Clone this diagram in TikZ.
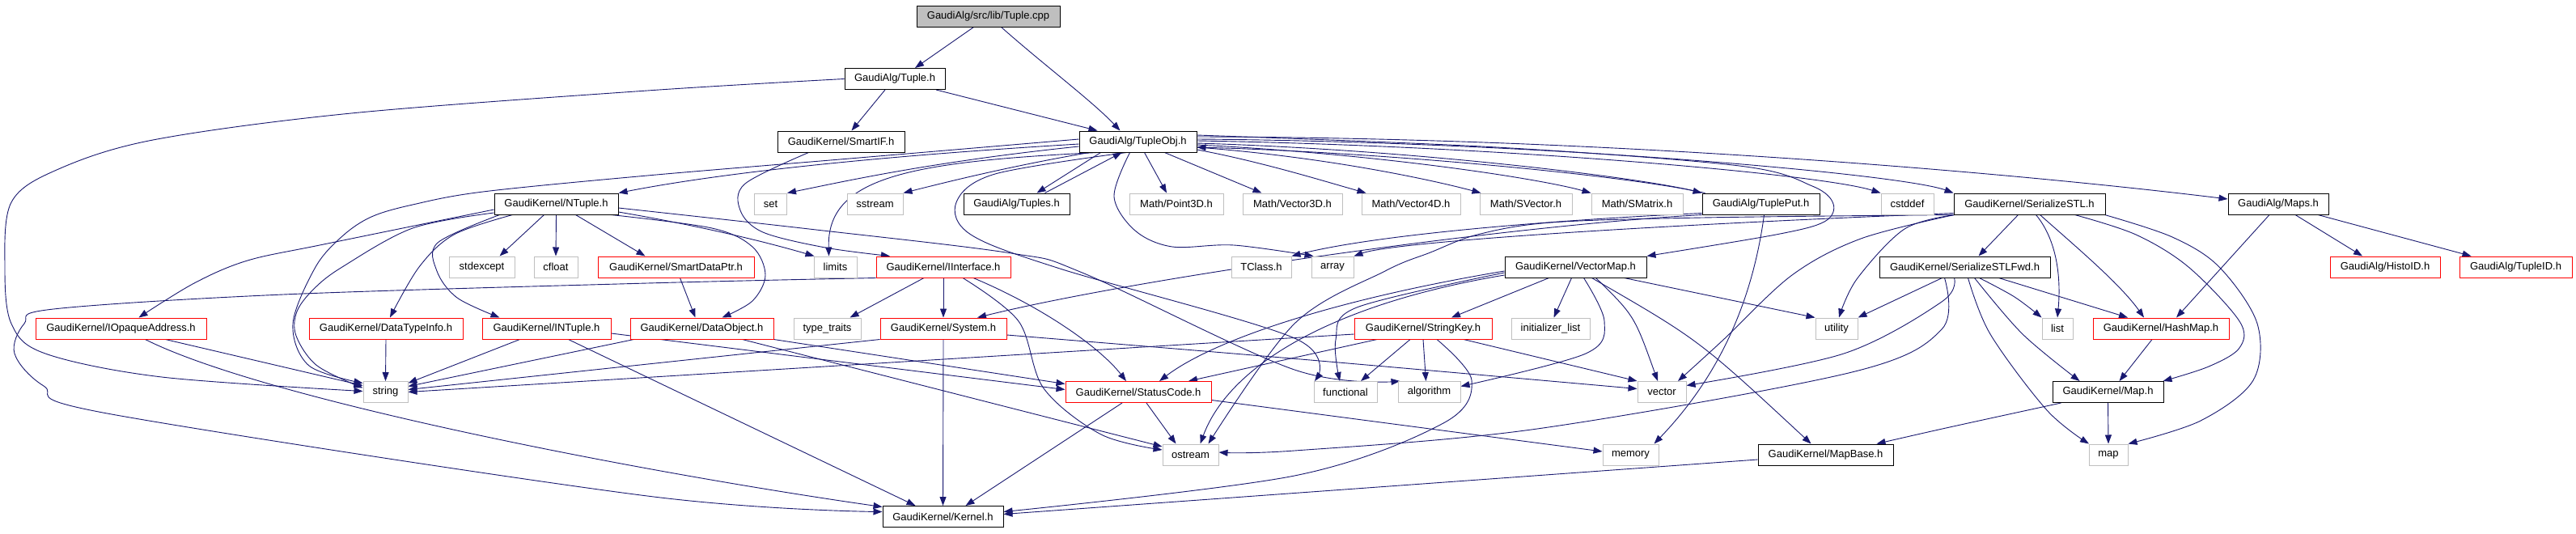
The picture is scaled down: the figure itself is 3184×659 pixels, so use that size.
\documentclass[tikz,border=0pt]{standalone}
\usepackage{fontspec}
\setmainfont{Liberation Sans}
\usetikzlibrary{arrows.meta}
\definecolor{edgec}{HTML}{191970}
\definecolor{graybd}{HTML}{BFBFBF}
\definecolor{rootfill}{HTML}{BFBFBF}
\pgfdeclarelayer{edgelayer}
\pgfsetlayers{edgelayer,main}
\begin{document}
\begin{tikzpicture}[x=1pt,y=-1pt,
  box/.style={rectangle, minimum height=26pt, inner sep=0pt, font=\fontsize{13pt}{15pt}\selectfont, line width=1pt, text=black},
  blk/.style={box, draw=black, fill=white},
  gry/.style={box, draw=graybd, fill=white},
  redb/.style={box, draw=red, fill=white},
  rootb/.style={box, draw=black, fill=rootfill},
  e/.style={draw=edgec, line width=0.9pt, -{Triangle[length=11pt,width=8pt]}},
  sm/.style={smooth, tension=0.55}]
% row 0-2
\node[rootb, minimum width=177pt] (cpp) at (1221.5,20) {GaudiAlg/src/lib/Tuple.cpp};
\node[blk, minimum width=124pt] (tupleh) at (1106,97.5) {GaudiAlg/Tuple.h};
\node[blk, minimum width=157pt] (smartif) at (1039.5,175) {GaudiKernel/SmartIF.h};
\node[blk, minimum width=145pt] (tupleobj) at (1406.5,175) {GaudiAlg/TupleObj.h};
% row 3
\node[blk, minimum width=153pt] (ntuple) at (687.5,252) {GaudiKernel/NTuple.h};
\node[gry, minimum width=40pt] (set) at (952.5,252) {set};
\node[gry, minimum width=69pt] (sstream) at (1081.5,252) {sstream};
\node[blk, minimum width=131pt] (tuples) at (1256.5,252) {GaudiAlg/Tuples.h};
\node[gry, minimum width=116pt] (point3d) at (1454,252) {Math/Point3D.h};
\node[gry, minimum width=123pt] (vec3d) at (1597.5,252) {Math/Vector3D.h};
\node[gry, minimum width=122pt] (vec4d) at (1744,252) {Math/Vector4D.h};
\node[gry, minimum width=114pt] (svector) at (1886,252) {Math/SVector.h};
\node[gry, minimum width=113pt] (smatrix) at (2023.5,252) {Math/SMatrix.h};
\node[blk, minimum width=145pt] (tupleput) at (2176.5,252) {GaudiAlg/TuplePut.h};
\node[gry, minimum width=65pt] (cstddef) at (2357.5,252) {cstddef};
\node[blk, minimum width=187pt] (serial) at (2508.5,252) {GaudiKernel/SerializeSTL.h};
\node[blk, minimum width=124pt] (maps) at (2816,252) {GaudiAlg/Maps.h};
% row 4
\node[gry, minimum width=81pt] (stdexcept) at (595.5,330) {stdexcept};
\node[gry, minimum width=54pt] (cfloat) at (687,330) {cfloat};
\node[redb, minimum width=193pt] (sdptr) at (835.5,330) {GaudiKernel/SmartDataPtr.h};
\node[gry, minimum width=53pt] (limits) at (1032.5,330) {limits};
\node[redb, minimum width=166pt] (iinterface) at (1166,330) {GaudiKernel/IInterface.h};
\node[gry, minimum width=74pt] (tclass) at (1559,330) {TClass.h};
\node[gry, minimum width=52pt] (array) at (1647,330) {array};
\node[blk, minimum width=175pt] (vectormap) at (1947.5,330) {GaudiKernel/VectorMap.h};
\node[blk, minimum width=211pt] (serialfwd) at (2428.5,330) {GaudiKernel/SerializeSTLFwd.h};
\node[redb, minimum width=136pt] (histoid) at (2948,330) {GaudiAlg/HistoID.h};
\node[redb, minimum width=139pt] (tupleid) at (3109.5,330) {GaudiAlg/TupleID.h};
% row 5
\node[redb, minimum width=211pt] (iopaque) at (149.5,406) {GaudiKernel/IOpaqueAddress.h};
\node[redb, minimum width=190pt] (dtinfo) at (477,406) {GaudiKernel/DataTypeInfo.h};
\node[redb, minimum width=159pt] (intuple) at (675.5,406) {GaudiKernel/INTuple.h};
\node[redb, minimum width=177pt] (dataobj) at (867.5,406) {GaudiKernel/DataObject.h};
\node[gry, minimum width=83pt] (typetraits) at (1022.5,406) {type\_traits};
\node[redb, minimum width=156pt] (system) at (1166,406) {GaudiKernel/System.h};
\node[redb, minimum width=170pt] (stringkey) at (1759,406) {GaudiKernel/StringKey.h};
\node[gry, minimum width=97pt] (initlist) at (1916.5,406) {initializer\_list};
\node[gry, minimum width=52pt] (utility) at (2270,406) {utility};
\node[gry, minimum width=38pt] (list) at (2543,406) {list};
\node[redb, minimum width=168pt] (hashmap) at (2671,406) {GaudiKernel/HashMap.h};
% row 6
\node[gry, minimum width=55pt] (string) at (476.5,484.5) {string};
\node[redb, minimum width=180pt] (statuscode) at (1407,484.5) {GaudiKernel/StatusCode.h};
\node[gry, minimum width=78pt] (functional) at (1663,484.5) {functional};
\node[gry, minimum width=77pt] (algorithm) at (1766.5,484.5) {algorithm};
\node[gry, minimum width=60pt] (vector) at (2054,484.5) {vector};
\node[blk, minimum width=137pt] (maph) at (2605.5,484.5) {GaudiKernel/Map.h};
% row 7
\node[gry, minimum width=69pt] (ostream) at (1471.5,562) {ostream};
\node[gry, minimum width=69pt] (memory) at (2015.5,562) {memory};
\node[blk, minimum width=167pt] (mapbase) at (2256.5,562) {GaudiKernel/MapBase.h};
\node[gry, minimum width=48pt] (map) at (2606,562) {map};
% row 8
\node[blk, minimum width=149pt] (kernel) at (1165.5,638.5) {GaudiKernel/Kernel.h};

\begin{pgfonlayer}{edgelayer}
\fill[white] (0,0) rectangle (3184,659);
\useasboundingbox (0,0) rectangle (3184,659);
% ---- edges ----
\draw[e] ([xshift=-18pt]cpp.south) -- ([xshift=25pt]tupleh.north);
\draw[e] ([xshift=16pt]cpp.south) .. controls (1290,80) and (1350,125) .. ([xshift=-22pt]tupleobj.north);
\draw[e] ([xshift=-12pt]tupleh.south) -- ([xshift=13pt]smartif.north);
\draw[e] ([xshift=51pt]tupleh.south) -- ([xshift=-50pt]tupleobj.north);
\draw[e] plot[sm] coordinates {(tupleh.west) (800,112) (434,140) (189,173) (70,210) (14,250) (6,330) (14,400) (56,437) (200,466) ([yshift=1pt]string.west)};
\draw[e] plot[sm] coordinates {([xshift=-40pt]smartif.south) (921,227) (915,260) (943,287) (1020,306) ([xshift=-66pt]iinterface.north)};
% TupleObj
\draw[e] ([yshift=-3pt]tupleobj.west) .. controls (1100,192) and (900,212) .. (ntuple.north east);
\draw[e] ([yshift=-6pt]tupleobj.west) .. controls (1150,200) and (1040,225) .. (set.north east);
\draw[e] ([xshift=-60pt]tupleobj.south) .. controls (1250,205) and (1170,225) .. (sstream.north east);
\draw[e] ([xshift=-46pt]tupleobj.south) -- ([xshift=25pt]tuples.north);
\draw[e] ([xshift=35pt]tuples.north) -- ([xshift=-20pt]tupleobj.south);
\draw[e] ([xshift=8pt]tupleobj.south) -- ([xshift=-12pt]point3d.north);
\draw[e] ([xshift=33pt]tupleobj.south) -- ([xshift=-38pt]vec3d.north);
\draw[e] ([yshift=-10pt]tupleobj.east) .. controls (1560,200) and (1640,225) .. ([xshift=6pt]vec4d.north west);
\draw[e] ([yshift=-7pt]tupleobj.east) .. controls (1650,195) and (1780,225) .. ([xshift=2pt]svector.north west);
\draw[e] ([yshift=-4pt]tupleobj.east) .. controls (1700,190) and (1900,220) .. (smatrix.north west);
\draw[e] ([yshift=-2pt]tupleobj.east) .. controls (1750,185) and (2030,220) .. (tupleput.north west);
\draw[e] ([yshift=1pt]tupleobj.east) .. controls (1850,180) and (2250,215) .. (cstddef.north west);
\draw[e] ([yshift=3pt]tupleobj.east) .. controls (1900,175) and (2350,215) .. (serial.north west);
\draw[e] ([yshift=6pt]tupleobj.east) .. controls (2000,170) and (2500,215) .. ([yshift=6pt]maps.west);
\draw[e] ([xshift=4pt]tupleput.north west) .. controls (2000,215) and (1700,188) .. ([yshift=-7pt]tupleobj.east);
\draw[e] ([xshift=-50pt]tupleobj.south) .. controls (1120,200) and (1022,220) .. ([xshift=-8pt]limits.north);
\draw[e] plot[sm] coordinates {([yshift=3pt]tupleobj.west) (1050,196) (800,217) (597,237) (510,253) (459,268) (423,292) (390,330) (362,400) (382,452) ([yshift=11pt]string.west)};
\draw[e] plot[sm] coordinates {([xshift=-14pt]tupleobj.south) (1230,215) (1182,250) (1200,290) (1310,332) (1600,418) ([xshift=-38pt]functional.north)};
\draw[e] plot[sm] coordinates {([xshift=-10pt]tupleobj.south) (1377,243) (1403,285) (1449,305) (1525,303) ([xshift=3pt]array.north west)};
\draw[e] plot[sm] coordinates {([yshift=8pt]tupleobj.east) (1850,182) (2150,205) (2240,230) (2266,252) (2255,274) (2195,290) (vectormap.north east)};
% NTuple
\draw[e] ([xshift=-15pt]ntuple.south) -- ([xshift=22pt]stdexcept.north);
\draw[e] (ntuple.south) -- (cfloat.north);
\draw[e] ([xshift=24pt]ntuple.south) -- ([xshift=-38pt]sdptr.north);
\draw[e] ([yshift=-10pt]ntuple.east) .. controls (870,280) and (950,300) .. ([xshift=1pt]limits.north west);
\draw[e] plot[sm] coordinates {([yshift=-5pt]ntuple.east) (1000,283) (1250,313) (1340,338) (1600,457) ([xshift=-36pt]algorithm.north)};
\draw[e] plot[sm] coordinates {([xshift=68pt]ntuple.south) (880,282) (930,305) (946,340) (930,372) ([xshift=25pt]dataobj.north)};
\draw[e] plot[sm] coordinates {([yshift=-7pt]ntuple.west) (400,302) (306,322) (240,350) ([xshift=22pt]iopaque.north)};
\draw[e] plot[sm] coordinates {([yshift=-11pt]ntuple.west) (510,282) (423,330) (388,357) (367,385) (366,415) (392,452) ([yshift=5pt]string.west)};
\draw[e] plot[sm] coordinates {([xshift=-54pt]ntuple.south) (561,290) (518,330) ([xshift=5pt]dtinfo.north)};
\draw[e] plot[sm] coordinates {([xshift=-70pt]ntuple.south) (541,300) (540,335) (565,368) ([xshift=-58pt]intuple.north)};
\draw[e] ([xshift=5pt]sdptr.south) -- ([xshift=-8pt]dataobj.north);
% IInterface
\draw[e] plot[sm] coordinates {(iinterface.south west) (800,350) (350,364) (66,382) (30,400) (18,437) (54,477) (138,512) (800,613) ([yshift=6pt]kernel.west)};
\draw[e] ([xshift=-24pt]iinterface.south) -- ([xshift=28pt]typetraits.north);
\draw[e] (iinterface.south) -- (system.north);
\draw[e] plot[sm] coordinates {([xshift=24pt]iinterface.south) (1259,397) (1290,480) (1361,537) ([yshift=6pt]ostream.west)};
\draw[e] ([xshift=37pt]iinterface.south) .. controls (1290,380) and (1360,430) .. ([xshift=-15pt]statuscode.north);
% System, DataObject, INTuple, IOpaque, DataTypeInfo
\draw[e] (system.south) -- (kernel.north);
\draw[e] (system.south west) -- ([yshift=3pt]string.east);
\draw[e] ([yshift=-8pt]system.east) .. controls (1600,443) .. ([yshift=4pt]vector.west);
\draw[e] ([xshift=5pt]dataobj.south west) -- ([yshift=7pt]string.east);
\draw[e] (dataobj.south east) -- ([yshift=10pt]statuscode.west);
\draw[e] ([xshift=50pt]dataobj.south) -- ([yshift=10pt]ostream.west);
\draw[e] ([xshift=-33pt]intuple.south) -- ([yshift=11pt]string.east);
\draw[e] ([xshift=27pt]intuple.south) -- ([xshift=-34pt]kernel.north);
\draw[e] ([yshift=-6pt]intuple.east) -- ([yshift=3pt]statuscode.west);
\draw[e] ([xshift=55pt]iopaque.south) -- ([yshift=8pt]string.west);
\draw[e] ([xshift=30pt]iopaque.south) .. controls (330,495) and (800,585) .. ([yshift=12pt]kernel.west);
\draw[e] (dtinfo.south) -- (string.north);
% StatusCode
\draw[e] ([xshift=10pt]statuscode.south) -- ([xshift=-18pt]ostream.north);
\draw[e] ([xshift=-20pt]statuscode.south) -- ([xshift=28pt]kernel.north);
\draw[e] ([yshift=-10pt]statuscode.east) -- ([yshift=4pt]memory.west);
% StringKey
\draw[e] ([yshift=-7pt]stringkey.west) -- (string.east);
\draw[e] ([xshift=-57pt]stringkey.south) -- ([xshift=62pt]statuscode.north);
\draw[e] ([xshift=-16pt]stringkey.south) -- ([xshift=19pt]functional.north);
\draw[e] (stringkey.south) -- ([xshift=-4pt]algorithm.north);
\draw[e] ([xshift=50pt]stringkey.south) -- (vector.north west);
\draw[e] plot[sm] coordinates {([xshift=17pt]stringkey.south) (1819,470) (1784,523) (1600,588) ([yshift=6pt]kernel.east)};
% VectorMap
\draw[e] ([xshift=-33pt]vectormap.south) -- ([xshift=35pt]stringkey.north);
\draw[e] ([xshift=-5pt]vectormap.south) -- ([xshift=4pt]initlist.north);
\draw[e] plot[sm] coordinates {([xshift=10pt]vectormap.south) (1983,397) (1960,437) ([yshift=7pt]algorithm.east)};
\draw[e] ([xshift=25pt]vectormap.south) .. controls (2020,390) .. ([xshift=-5pt]vector.north);
\draw[e] ([xshift=20pt]vectormap.south) .. controls (2100,420) .. ([xshift=-18pt]mapbase.north);
\draw[e] ([xshift=60pt]vectormap.south) -- (utility.north west);
\draw[e] ([yshift=-5pt]vectormap.west) .. controls (1650,370) and (1500,420) .. ([xshift=26pt]statuscode.north);
\draw[e] plot[sm] coordinates {([yshift=-7pt]vectormap.west) (1677,380) (1651,420) ([xshift=-7pt]functional.north)};
\draw[e] ([yshift=-10pt]vectormap.west) .. controls (1650,375) and (1520,450) .. ([xshift=12pt]ostream.north);
% TuplePut
\draw[e] ([xshift=4pt]tupleput.south) .. controls (2165,380) and (2120,470) .. ([xshift=29pt]memory.north);
\draw[e] (tupleput.south west) .. controls (1850,280) and (1400,345) .. ([xshift=42pt]system.north);
\draw[e] ([yshift=2pt]tupleput.south west) .. controls (1917,272) and (1700,290) .. (tclass.north east);
% SerializeSTL
\draw[e] ([xshift=-14pt]serial.south) -- ([xshift=17pt]serialfwd.north);
\draw[e] ([xshift=8pt]serial.south) .. controls (2545,300) and (2547,350) .. (list.north);
\draw[e] ([xshift=13pt]serial.south) .. controls (2560,300) and (2620,350) .. ([xshift=-21pt]hashmap.north);
\draw[e] plot[sm] coordinates {([xshift=56pt]serial.south) (2640,290) (2705,330) (2768,397) (2768,430) (2730,453) ([xshift=-1pt]maph.north east)};
\draw[e] plot[sm] coordinates {([xshift=93pt]serial.south) (2685,293) (2743,330) (2790,400) (2785,470) (2720,520) (map.north east)};
\draw[e] plot[sm] coordinates {([xshift=2pt]serial.south west) (2354,283) (2295,345) ([xshift=3pt]utility.north)};
\draw[e] plot[sm] coordinates {([xshift=1pt]serial.south west) (2300,295) (2215,340) (2130,420) ([xshift=20pt]vector.north)};
\draw[e] ([yshift=2pt]serial.south west) .. controls (2000,280) and (1720,300) .. (array.north east);
\draw[e] plot[sm] coordinates {(serial.south west) (2104,269) (1917,275) (1826,290) (1768,312) (1712,335) (1600,400) ([xshift=22pt]ostream.north)};
% SerializeSTLFwd
\draw[e] ([xshift=-28pt]serialfwd.south) -- (utility.north east);
\draw[e] plot[sm] coordinates {([xshift=-13pt]serialfwd.south) (2400,373) (2279,437) ([yshift=8pt]vector.east)};
\draw[e] plot[sm] coordinates {([xshift=-25pt]serialfwd.south) (2400,407) (2289,460) (1900,530) (1600,557) ([yshift=3pt]ostream.east)};
\draw[e] plot[sm] coordinates {([xshift=18pt]serialfwd.south) (2490,367) (list.north west)};
\draw[e] ([xshift=42pt]serialfwd.south) -- ([xshift=-41pt]hashmap.north);
\draw[e] plot[sm] coordinates {([xshift=12pt]serialfwd.south) (2500,413) ([xshift=-35pt]maph.north)};
\draw[e] plot[sm] coordinates {([xshift=4pt]serialfwd.south) (2460,413) (2530,507) ([xshift=-24pt]map.north)};
% Maps, HashMap, Map, MapBase
\draw[e] ([xshift=-11pt]hashmap.south) -- ([xshift=14pt]maph.north);
\draw[e] ([xshift=-11pt]maps.south) -- ([xshift=19pt]hashmap.north);
\draw[e] ([xshift=21pt]maps.south) -- ([xshift=-28pt]histoid.north);
\draw[e] ([xshift=49pt]maps.south) -- ([xshift=-55pt]tupleid.north);
\draw[e] (maph.south) -- (map.north);
\draw[e] ([xshift=-58pt]maph.south) .. controls (2400,530) .. ([xshift=63pt]mapbase.north);
\draw[e] ([yshift=-6pt]mapbase.west) -- ([yshift=3pt]kernel.east);
\end{pgfonlayer}
\end{tikzpicture}
\end{document}
